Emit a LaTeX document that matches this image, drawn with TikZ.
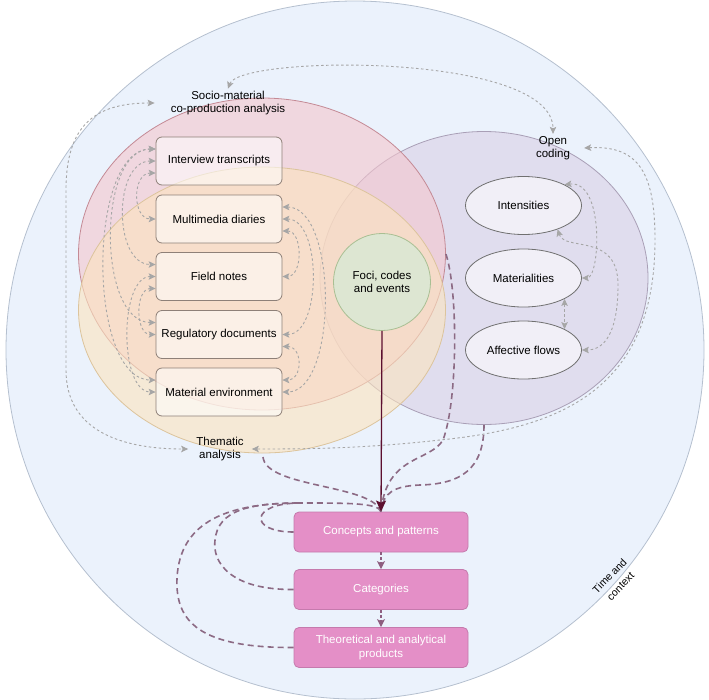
\documentclass[tikz,border=0pt]{standalone}
\usepackage{fontspec}
\setmainfont{Liberation Sans}
\usetikzlibrary{shapes.geometric,arrows.meta,calc}
\definecolor{bgblue}{HTML}{EBF2FC}
\definecolor{bgline}{HTML}{B5C0CF}
\definecolor{redfill}{HTML}{F4C6CD}
\definecolor{redline}{HTML}{C48A95}
\definecolor{yelfill}{HTML}{FCE4BE}
\definecolor{yelline}{HTML}{DCC49C}
\definecolor{purfill}{HTML}{D6CAE2}
\definecolor{purline}{HTML}{A99FB6}
\definecolor{greenfill}{HTML}{DDE6D2}
\definecolor{greenline}{HTML}{A9BF93}
\definecolor{boxline}{HTML}{8E8078}
\definecolor{ovalfill}{HTML}{F1EFF7}
\definecolor{ovalline}{HTML}{707070}
\definecolor{pinkfill}{HTML}{E48FC7}
\definecolor{pinkline}{HTML}{C57AAD}
\definecolor{dotgray}{HTML}{A6A6A6}
\definecolor{mauve}{HTML}{8C6A84}
\definecolor{maroon}{HTML}{5C0F2F}
\definecolor{arrmauve}{HTML}{8E5E80}
\tikzset{
  region/.style={ellipse, inner sep=0pt, line width=0.8pt},
  srcbox/.style={rectangle, rounded corners=6pt, draw=boxline, fill=white, fill opacity=0.55, text opacity=1, minimum width=126pt, minimum height=48pt, line width=0.8pt},
  oval/.style={ellipse, draw=ovalline, fill=ovalfill, minimum width=116pt, minimum height=58pt, inner sep=0pt, line width=0.8pt},
  pinkbox/.style={rectangle, rounded corners=5pt, draw=pinkline, fill=pinkfill, text=white, minimum width=174pt, minimum height=40pt, align=center, line width=0.8pt},
  lbl/.style={align=center, inner sep=2pt},
  gtip/.tip={Stealth[length=7pt,width=6.5pt,inset=1.5pt]},
  gdot/.style={draw=dotgray, line width=0.9pt, dash pattern=on 2.5pt off 2.5pt, gtip-gtip},
  mdash/.style={draw=mauve, line width=1.6pt, dash pattern=on 6pt off 4pt},
}
\begin{document}
\begin{tikzpicture}[x=1pt,y=-1pt, font=\fontsize{11.5}{13.5}\selectfont]
\useasboundingbox (0,0) rectangle (709,699);

% regions
\node[circle, draw=bgline, fill=bgblue, minimum size=698pt, inner sep=0pt, line width=0.8pt] (outer) at (355,350) {};
\node[region, draw=purline, fill=purfill, fill opacity=0.5, minimum width=328pt, minimum height=293pt] (pur) at (484,278) {};
\node[region, draw=redline, fill=redfill, fill opacity=0.6, minimum width=367pt, minimum height=312pt] (red) at (262,254) {};
\node[region, draw=yelline, fill=yelfill, fill opacity=0.6, minimum width=367pt, minimum height=286pt] (yel) at (262,310) {};
\node[circle, draw=greenline, fill=greenfill, minimum size=97pt, inner sep=0pt, line width=0.8pt, align=center] (foci) at (382,282) {Foci, codes\\and events};

% source boxes
\node[srcbox] (I) at (219,161) {Interview transcripts};
\node[srcbox] (M) at (219,219) {Multimedia diaries};
\node[srcbox] (F) at (219,276.5) {Field notes};
\node[srcbox] (R) at (219,334.5) {Regulatory documents};
\node[srcbox] (E) at (219,392) {Material environment};

% ovals
\node[oval] (int) at (523.5,205.5) {Intensities};
\node[oval] (mat) at (523.5,278) {Materialities};
\node[oval] (aff) at (523.5,350) {Affective flows};

% pink boxes
\node[pinkbox] (conc) at (381,532) {Concepts and patterns};
\node[pinkbox] (cat) at (381,589.5) {Categories};
\node[pinkbox] (theo) at (381,647.5) {Theoretical and analytical\\products};

% labels
\node[lbl] (soc) at (228,103) {Socio-material\\co-production analysis};
\node[lbl] (open) at (553,148) {Open\\coding};
\node[lbl] (them) at (220,449) {Thematic\\analysis};
\node[align=center, rotate=46, inner sep=1pt, font=\fontsize{10.5}{15}\selectfont] (time) at (615,581) {Time and\\context};
\coordinate (thA) at (263,457);

% label triangle
\draw[gdot] (soc.north) .. controls (240,55) and (553,52) .. (open.north);
\draw[gdot] ([xshift=-14pt]soc.west) .. controls (95,103) and (66,125) .. (66,190) -- (66,370) .. controls (66,430) and (120,449) .. ([xshift=-6pt]them.west);
\draw[gdot] ([xshift=12pt]open.east) .. controls (640,145) and (655,175) .. (655,240) .. controls (655,390) and (560,428) .. (440,440) .. controls (360,449) and (300,449) .. ([xshift=6pt]them.east);

% left-side links between sources
\draw[gdot] ($(I.west)+(0,12)$) .. controls (132,173) and (132,219) .. (M.west);
\draw[gdot] (I.west) .. controls (113,161) and (113,264.5) .. ($(F.west)+(0,-12)$);
\draw[gdot] ($(I.west)+(0,-12)$) .. controls (97,149) and (97,322.5) .. ($(R.west)+(0,-12)$);
\draw[gdot] ($(I.west)+(0,-12)$) .. controls (87,149) and (87,380) .. ($(E.west)+(0,-12)$);
\draw[gdot] ($(F.west)+(0,12)$) .. controls (135,288.5) and (135,334.5) .. (R.west);
\draw[gdot] (F.west) .. controls (119,276.5) and (119,392) .. (E.west);
% right-side links
\draw[gdot] ($(M.east)+(0,12)$) .. controls (303,231) and (303,276.5) .. (F.east);
\draw[gdot] (M.east) .. controls (322,219) and (322,334.5) .. (R.east);
\draw[gdot] ($(M.east)+(0,-12)$) .. controls (338,207) and (338,392) .. (E.east);
\draw[gdot] ($(R.east)+(0,12)$) .. controls (303,346.5) and (303,380) .. ($(E.east)+(0,-12)$);

% oval links
\draw[gdot] (int.27) .. controls (605,180) and (600,278) .. (mat.east);
\draw[gdot] (int.-35) .. controls (565,252) and (618,232) .. (618,285) .. controls (618,340) and (600,350) .. (aff.east);
\draw[gdot] (mat.-27) -- (aff.27);

% flows into concepts
\draw[mdash] (thA) .. controls (266,488) and (372,484) .. (conc.north);
\draw[mdash] (red.east) .. controls (458,290) and (458,400) .. (443,440) .. controls (430,462) and (386,455) .. (conc.north);
\draw[mdash] (pur.south) .. controls (484,470) and (460,484) .. (420,485) .. controls (395,486) and (383,492) .. (conc.north);
\draw[mdash] (conc.west) .. controls (248,532) and (250,503) .. (300,503) .. controls (350,503) and (378,503) .. (conc.north);
\draw[mdash] (cat.west) .. controls (230,590) and (212,562) .. (215,540) .. controls (218,510) and (250,503) .. (300,503);
\draw[mdash] (theo.west) .. controls (200,648) and (175,622) .. (177,578) .. controls (180,520) and (230,503) .. (300,503);
\draw[draw=maroon, line width=1.3pt, -{Stealth[length=11pt,width=10pt,inset=2pt]}] (foci.south) -- (conc.north);

% between pink boxes
\draw[draw=arrmauve, line width=1.2pt, dash pattern=on 3pt off 2pt, -{Stealth[length=8pt,width=8pt,inset=2pt]}] (conc.south) -- (cat.north);
\draw[draw=arrmauve, line width=1.2pt, dash pattern=on 3pt off 2pt, -{Stealth[length=8pt,width=8pt,inset=2pt]}] (cat.south) -- (theo.north);
\end{tikzpicture}
\end{document}
